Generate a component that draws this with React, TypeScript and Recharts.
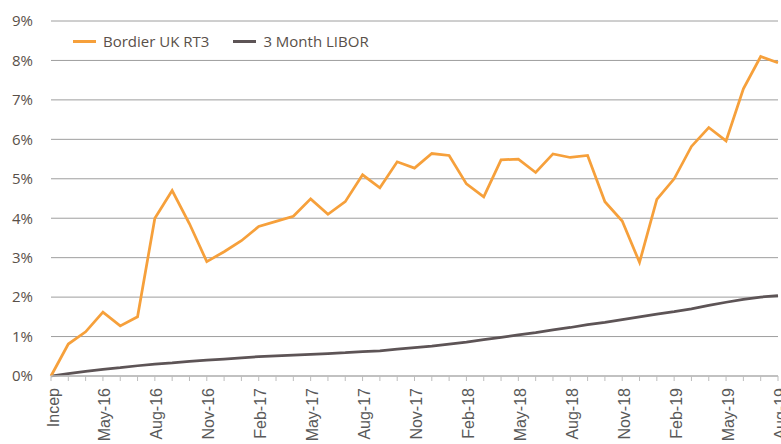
import React from 'react';
import { LineChart, Line, XAxis, YAxis, CartesianGrid, Legend } from 'recharts';

const categories = [
  'Incep', 'Mar-16', 'Apr-16', 'May-16', 'Jun-16', 'Jul-16', 'Aug-16', 'Sep-16', 'Oct-16', 'Nov-16', 'Dec-16',
  'Jan-17', 'Feb-17', 'Mar-17', 'Apr-17', 'May-17', 'Jun-17', 'Jul-17', 'Aug-17', 'Sep-17', 'Oct-17', 'Nov-17', 'Dec-17',
  'Jan-18', 'Feb-18', 'Mar-18', 'Apr-18', 'May-18', 'Jun-18', 'Jul-18', 'Aug-18', 'Sep-18', 'Oct-18', 'Nov-18', 'Dec-18',
  'Jan-19', 'Feb-19', 'Mar-19', 'Apr-19', 'May-19', 'Jun-19', 'Jul-19', 'Aug-19',
];

const bordierUkRt3 = [
  0, 0.81, 1.12, 1.62, 1.27, 1.5, 4.0, 4.7, 3.86, 2.9, 3.15,
  3.43, 3.79, 3.92, 4.05, 4.49, 4.1, 4.42, 5.1, 4.77, 5.43, 5.27, 5.64,
  5.59, 4.87, 4.54, 5.48, 5.5, 5.16, 5.63, 5.54, 5.59, 4.42, 3.93, 2.88,
  4.48, 5.0, 5.82, 6.3, 5.96, 7.28, 8.1, 7.94,
];

const libor3m = [
  0, 0.06, 0.12, 0.17, 0.21, 0.26, 0.3, 0.33, 0.37, 0.4, 0.43,
  0.46, 0.49, 0.51, 0.53, 0.55, 0.57, 0.59, 0.62, 0.64, 0.68, 0.72, 0.76,
  0.81, 0.86, 0.92, 0.98, 1.04, 1.1, 1.17, 1.23, 1.3, 1.36, 1.43, 1.5,
  1.57, 1.63, 1.7, 1.79, 1.87, 1.94, 2.0, 2.04,
];

const yTicks = [0, 1, 2, 3, 4, 5, 6, 7, 8, 9];
const labelEvery = 3;

const seriesNames = ['Bordier UK RT3', '3 Month LIBOR'];
const ORANGE = '#F6A03B';
const DARK = '#5D5456';

const data = categories.map((c, i) => ({
  month: c,
  rt3: bordierUkRt3[i],
  libor: libor3m[i],
}));

const XTick = (props: any) => {
  const { x, y, payload, index } = props;
  if (index % labelEvery !== 0) return null;
  return (
    <text
      x={x}
      y={y}
      dy={7.5}
      transform={`rotate(-90, ${x}, ${y})`}
      textAnchor="end"
      fill="#595959"
      fontSize={16}
      fontFamily="'Liberation Sans', Arial, sans-serif"
    >
      {payload.value}
    </text>
  );
};

const LegendContent = () => {
  const items = [
    { name: seriesNames[0], color: ORANGE },
    { name: seriesNames[1], color: DARK },
  ];
  return (
    <div style={{ display: 'flex', alignItems: 'center', fontFamily: "'Open Sans', sans-serif", fontSize: 15, color: '#595049', whiteSpace: 'nowrap' }}>
      {items.map((it, i) => (
        <div key={it.name} style={{ display: 'flex', alignItems: 'center', marginRight: i === 0 ? 24 : 0 }}>
          <div style={{ width: 23, height: 3, background: it.color, marginRight: 7 }} />
          <span style={{ lineHeight: '20px' }}>{it.name}</span>
        </div>
      ))}
    </div>
  );
};

export default function App() {
  return (
    <div style={{ position: 'absolute', left: 0, top: 0 }}>
      <LineChart width={781} height={444} data={data} margin={{ top: 21, right: 3, bottom: 0, left: 0 }}>
        <CartesianGrid horizontal vertical={false} stroke="#9E9E9E" strokeWidth={1} />
        <XAxis
          dataKey="month"
          interval={0}
          height={68}
          tick={<XTick />}
          tickSize={5}
          tickMargin={7}
          axisLine={{ stroke: '#BDBDBD', strokeWidth: 1.5 }}
          tickLine={{ stroke: '#BDBDBD', strokeWidth: 1 }}
        />
        <YAxis
          domain={[0, 9]}
          ticks={yTicks}
          width={51}
          axisLine={false}
          tickLine={false}
          tickSize={0}
          tickMargin={18}
          tickFormatter={(v: number) => `${v}%`}
          tick={{ fill: '#595049', fontSize: 15, fontFamily: "'Open Sans', sans-serif" }}
        />
        <Legend
          verticalAlign="top"
          align="left"
          layout="horizontal"
          content={<LegendContent />}
          wrapperStyle={{ position: 'absolute', top: 31, left: 73, width: 'auto', height: 0, overflow: 'visible' }}
        />
        <Line
          type="linear"
          dataKey="libor"
          name={seriesNames[1]}
          stroke={DARK}
          strokeWidth={2.75}
          dot={false}
          isAnimationActive={false}
        />
        <Line
          type="linear"
          dataKey="rt3"
          name={seriesNames[0]}
          stroke={ORANGE}
          strokeWidth={2.75}
          dot={false}
          isAnimationActive={false}
        />
      </LineChart>
    </div>
  );
}
